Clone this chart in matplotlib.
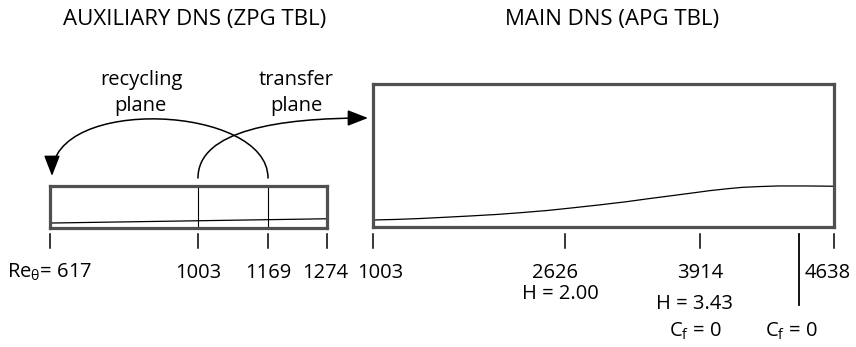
import matplotlib
matplotlib.use("Agg")
import matplotlib.pyplot as plt
from matplotlib.patches import FancyArrowPatch
from matplotlib.path import Path
from matplotlib.transforms import blended_transform_factory, offset_copy

plt.rcParams['font.family'] = ['Open Sans', 'DejaVu Sans']
plt.rcParams['mathtext.fontset'] = 'custom'
plt.rcParams['mathtext.rm'] = 'Open Sans'
plt.rcParams['mathtext.it'] = 'Open Sans:italic'

# stations along each domain (fraction of domain length) and their Re_theta
aux_x = [0.0, 0.534, 0.787, 1.0]
aux_re = [617, 1003, 1169, 1274]
aux_planes = [0.534, 0.787]          # transfer plane, recycling plane

main_x = [0.0, 0.417, 0.709, 1.0]
main_re = [1003, 2626, 3914, 4638]
main_H = ['', '2.00', '3.43', '']
sep_x = 0.924                        # Cf = 0 (separation)

# boundary layer thickness (fraction of box height)
aux_dx = [0.0, 1.0]
aux_delta = [0.118, 0.22]
main_dx = [0.0, 0.05, 0.10, 0.15, 0.21, 0.27, 0.32, 0.38, 0.43, 0.49, 0.55,
           0.60, 0.66, 0.70, 0.73, 0.77, 0.80, 0.84, 0.88, 0.94, 1.0]
main_delta = [0.049, 0.053, 0.059, 0.067, 0.077, 0.088, 0.100, 0.116, 0.133, 0.154, 0.177,
              0.199, 0.224, 0.241, 0.254, 0.268, 0.277, 0.283, 0.287, 0.287, 0.285]

W, H = 856, 347
fig = plt.figure(figsize=(W / 100, H / 100), dpi=100)

# overlay in pixel units for annotations
ov = fig.add_axes([0, 0, 1, 1])
ov.set_xlim(0, W)
ov.set_ylim(H, 0)
ov.axis('off')


def box(left, top, right, bottom):
    ax = fig.add_axes([left / W, (H - bottom) / H, (right - left) / W, (bottom - top) / H])
    ax.set_xlim(0, 1)
    ax.set_ylim(0, 1)
    ax.set_xticks([])
    ax.set_yticks([])
    ax.patch.set_alpha(0)
    for s in ax.spines.values():
        s.set_color('#505050')
        s.set_linewidth(2.3)
    return ax


ax_aux = box(50, 186, 327, 228)
ax_main = box(373, 84, 834, 227)

ax_aux.plot(aux_dx, aux_delta, color='black', lw=0.9)
for xp in aux_planes:
    ax_aux.axvline(xp, color='black', lw=0.8)
ax_main.plot(main_dx, main_delta, color='black', lw=0.9)

fs = 14.5
tr_aux = blended_transform_factory(ax_aux.transData, ov.transData)
tr_main = blended_transform_factory(ax_main.transData, ov.transData)

# tick marks and Re labels under the auxiliary box
for x, re in zip(aux_x, aux_re):
    ov.plot([x, x], [234, 248], color='black', lw=1.1, transform=tr_aux, clip_on=False)
    if re == 617:
        ov.text(x, 277.5, r'Re$_{\mathrm{\theta}}$= 617', ha='center', va='baseline',
                fontsize=fs, transform=tr_aux)
    else:
        ov.text(x, 277.5, str(re), ha='center', va='baseline', fontsize=fs,
                transform=offset_copy(tr_aux, fig=fig, x=-2 if re == 1274 else 0, units='dots'))

# tick marks, Re and H labels under the main box
nudge = {1003: 7, 2626: -10, 3914: 0, 4638: -6}
for x, re, hv in zip(main_x, main_re, main_H):
    ov.plot([x, x], [234, 248], color='black', lw=1.1, transform=tr_main, clip_on=False)
    t = offset_copy(tr_main, fig=fig, x=nudge[re], units='dots')
    ov.text(x, 277.5, str(re), ha='center', va='baseline', fontsize=fs, transform=t)
    if hv:
        ty = 299 if hv == '2.00' else 309
        hx = 5 if hv == '2.00' else -5
        ov.text(x, ty, 'H = ' + hv, ha='center', va='baseline', fontsize=fs,
                transform=offset_copy(tr_main, fig=fig, x=nudge[re] + hx, units='dots'))
    if re == 3914:
        ov.text(x, 336.5, r'C$_\mathrm{f}$ = 0', ha='center', va='baseline', fontsize=fs,
                transform=offset_copy(tr_main, fig=fig, x=-5, units='dots'))

ov.plot([sep_x, sep_x], [234, 305], color='black', lw=1.3, transform=tr_main, clip_on=False)
ov.text(sep_x, 336.5, r'C$_\mathrm{f}$ = 0', ha='center', va='baseline', fontsize=fs,
        transform=offset_copy(tr_main, fig=fig, x=-8, units='dots'))

# titles
ov.text(195, 25, 'AUXILIARY DNS (ZPG TBL)', ha='center', va='baseline', fontsize=16)
ov.text(612, 25, 'MAIN DNS (APG TBL)', ha='center', va='baseline', fontsize=16)

# plane labels
ov.text(141, 85, 'recycling', ha='center', va='baseline', fontsize=fs)
ov.text(140, 111, 'plane', ha='center', va='baseline', fontsize=fs)
ov.text(296, 85, 'transfer', ha='center', va='baseline', fontsize=fs)
ov.text(296, 111, 'plane', ha='center', va='baseline', fontsize=fs)

# recycling arrow: from recycling plane back to the inlet
rec = Path([(268, 178), (268, 105), (52, 95), (52, 176)],
           [Path.MOVETO, Path.CURVE4, Path.CURVE4, Path.CURVE4])
ov.add_patch(FancyArrowPatch(path=rec, arrowstyle='-|>,head_length=0.9,head_width=0.35',
                             mutation_scale=14, color='black', lw=1.1))

# transfer arrow: from transfer plane to main inlet
trf = Path([(198, 178), (198, 130), (280, 118), (368, 118)],
           [Path.MOVETO, Path.CURVE4, Path.CURVE4, Path.CURVE4])
ov.add_patch(FancyArrowPatch(path=trf, arrowstyle='-|>,head_length=0.9,head_width=0.35',
                             mutation_scale=14, color='black', lw=1.1))

fig.savefig('out.png', dpi=100)
